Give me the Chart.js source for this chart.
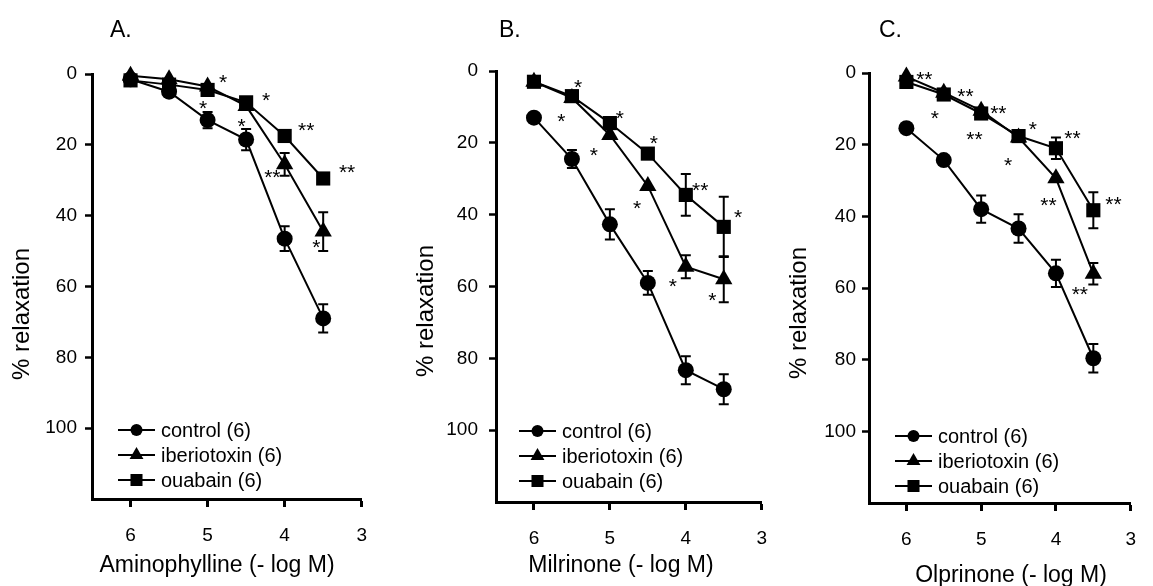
<!DOCTYPE html>
<html>
<head>
<meta charset="utf-8">
<script src="https://cdn.jsdelivr.net/npm/chart.js@4.4.1/dist/chart.umd.min.js"></script>
<style>
  body { margin: 0; background: #fff; width: 1153px; height: 586px; overflow: hidden; position: relative; }
  canvas { position: absolute; top: 0; }
</style>
</head>
<body>
<canvas id="chartA" width="384" height="586" style="left:0px"></canvas>
<canvas id="chartB" width="400" height="586" style="left:384px"></canvas>
<canvas id="chartC" width="385" height="586" style="left:768px"></canvas>
<script>
// doses (-log M) and axis ticks
const doses = [6, 5.5, 5, 4.5, 4, 3.5];
const xTicks = [6, 5, 4, 3];
const yTicks = [0, 20, 40, 60, 80, 100];
const seriesNames = ['control (6)', 'iberiotoxin (6)', 'ouabain (6)'];
const pointStyles = ['circle', 'triangle', 'rect'];

// A. Aminophylline
const aminoControl = [1.5, 5, 13, 18.5, 46.5, 69];
const aminoControlSem = [0, 0, 2.3, 3, 3.5, 4];
const aminoIbtx = [0.5, 1.5, 3.5, 9, 25.5, 44.5];
const aminoIbtxSem = [0, 0, 0, 0, 3.2, 5.5];
const aminoOuab = [1.8, 3, 4.5, 8, 17.5, 29.5];
const aminoOuabSem = [0, 0, 0, 0, 0, 0];
const aminoStars = [[4.80, 1.1, '*'], [5.06, 8.2, '*'], [4.24, 6.2, '*'], [4.56, 13.5, '*'],
  [3.72, 14.6, '**'], [4.16, 27.9, '**'], [3.19, 26.5, '**'], [3.59, 47.6, '*']];

// B. Milrinone
const milControl = [13, 24.5, 42.7, 59, 83.3, 88.6];
const milControlSem = [0, 2.5, 4.2, 3.3, 3.9, 4.2];
const milIbtx = [3, 7.5, 17.8, 32, 54.5, 58];
const milIbtxSem = [0, 0, 0, 0, 3.2, 6.4];
const milOuab = [3, 7, 14.5, 23, 34.5, 43.4];
const milOuabSem = [0, 0, 0, 0, 5.8, 8.4];
const milStars = [[5.42, 3.1, '*'], [5.64, 12.8, '*'], [4.87, 11.7, '*'], [5.21, 22, '*'],
  [4.42, 18.7, '*'], [4.64, 36.8, '*'], [3.81, 31.8, '**'], [4.17, 58.5, '*'],
  [3.31, 39.3, '*'], [3.65, 62.4, '*']];

// C. Olprinone
const olpControl = [15.4, 24.3, 38, 43.4, 55.9, 79.6];
const olpControlSem = [0, 0, 3.8, 4, 3.8, 4];
const olpIbtx = [1, 5.5, 10.5, 18, 29.4, 56];
const olpIbtxSem = [0, 0, 0, 0, 0, 3];
const olpOuab = [2.5, 6, 11.3, 17.6, 21, 38.3];
const olpOuabSem = [0, 0, 0, 0, 3, 5];
const olpStars = [[5.76, 0.3, '**'], [5.21, 5.3, '**'], [5.62, 11.2, '*'], [4.77, 9.8, '**'],
  [5.09, 17.3, '**'], [4.31, 14.5, '*'], [4.64, 24.3, '*'], [3.78, 17, '**'],
  [4.10, 35.5, '**'], [3.23, 35.2, '**'], [3.68, 60.3, '**']];

const FONT = '"Liberation Sans", Arial, sans-serif';

// error bars under the markers, texts and legend on top
const panelExtras = {
  id: 'panelExtras',
  beforeDatasetsDraw(chart) {
    const ctx = chart.ctx, xs = chart.scales.x, ys = chart.scales.y;
    ctx.save();
    ctx.strokeStyle = '#000';
    ctx.lineWidth = 2;
    chart.data.datasets.forEach(ds => {
      ds.data.forEach((p, i) => {
        const e = ds.sem[i];
        if (!e) return;
        const px = xs.getPixelForValue(p.x);
        const top = ys.getPixelForValue(p.y - e), bot = ys.getPixelForValue(p.y + e);
        ctx.beginPath();
        ctx.moveTo(px, top); ctx.lineTo(px, bot);
        ctx.moveTo(px - 5, top); ctx.lineTo(px + 5, top);
        ctx.moveTo(px - 5, bot); ctx.lineTo(px + 5, bot);
        ctx.stroke();
      });
    });
    ctx.restore();
  },
  afterDraw(chart, args, o) {
    const ctx = chart.ctx, xs = chart.scales.x, ys = chart.scales.y;
    const area = chart.chartArea;
    ctx.save();
    ctx.fillStyle = '#000';
    ctx.strokeStyle = '#000';

    // panel letter
    ctx.font = '23px ' + FONT;
    ctx.textAlign = 'left';
    ctx.textBaseline = 'alphabetic';
    ctx.fillText(o.letter, area.left + o.letterDx, 37);

    // x title
    ctx.font = '23px ' + FONT;
    ctx.textAlign = 'center';
    ctx.fillText(o.xTitle, area.left + o.xTitleDx, o.xTitleY);

    // y title
    ctx.save();
    ctx.font = '24px ' + FONT;
    ctx.translate(area.left - 70, area.top + 240);
    ctx.rotate(-Math.PI / 2);
    ctx.textBaseline = 'middle';
    ctx.fillText('% relaxation', 0, 0);
    ctx.restore();

    // significance marks
    ctx.font = '21px ' + FONT;
    ctx.textAlign = 'center';
    ctx.textBaseline = 'alphabetic';
    o.stars.forEach(s => {
      ctx.fillText(s[2], xs.getPixelForValue(s[0]), ys.getPixelForValue(s[1]) + 11.5);
    });

    // legend
    const lx = area.left + o.legendDx;
    const sizes = [6, 8, 8.5];
    ctx.lineWidth = 2;
    ctx.font = '20px ' + FONT;
    ctx.textAlign = 'left';
    ctx.textBaseline = 'middle';
    seriesNames.forEach((name, i) => {
      const ly = area.top + o.legendDy + i * 25;
      ctx.beginPath();
      ctx.moveTo(lx, ly); ctx.lineTo(lx + 37, ly);
      ctx.stroke();
      Chart.helpers.drawPoint(ctx, { pointStyle: pointStyles[i], radius: sizes[i], rotation: 0, borderWidth: 0 }, lx + 18.5, ly);
      ctx.fillText(name, lx + 43, ly + 1);
    });
    ctx.restore();
  }
};

function makeChart(id, p) {
  const series = [[p.control, p.controlSem, 8], [p.ibtx, p.ibtxSem, 10], [p.ouab, p.ouabSem, 10]];
  const datasets = series.map((s, i) => ({
    label: seriesNames[i],
    data: doses.map((d, j) => ({ x: d, y: s[0][j] })),
    sem: s[1],
    borderColor: '#000',
    backgroundColor: '#000',
    borderWidth: 2,
    pointStyle: pointStyles[i],
    pointRadius: s[2],
    pointBorderWidth: 0,
    pointBackgroundColor: '#000',
    clip: false
  }));

  return new Chart(document.getElementById(id), {
    type: 'line',
    data: { datasets: datasets },
    plugins: [panelExtras],
    options: {
      responsive: false,
      animation: false,
      devicePixelRatio: 1,
      layout: { padding: { top: p.top, right: p.right, bottom: 0, left: 0 } },
      plugins: {
        legend: { display: false },
        tooltip: { enabled: false },
        panelExtras: p.extras
      },
      scales: {
        x: {
          type: 'linear',
          reverse: true,
          min: 3,
          max: 6.5,
          afterBuildTicks: (scale) => { scale.ticks = xTicks.map(v => ({ value: v })); },
          afterFit: (scale) => { scale.height = p.xHeight; },
          grid: { drawOnChartArea: false, drawTicks: true, tickLength: 8, tickWidth: 3, tickColor: '#000' },
          border: { display: true, color: '#000', width: 3 },
          ticks: { color: '#000', padding: 17, font: { family: FONT, size: 19 } }
        },
        y: {
          type: 'linear',
          reverse: true,
          min: 0,
          max: 120,
          afterBuildTicks: (scale) => { scale.ticks = yTicks.map(v => ({ value: v })); },
          afterFit: (scale) => { scale.width = p.yWidth; },
          grid: { drawOnChartArea: false, drawTicks: true, tickLength: 7, tickWidth: 2.5, tickColor: '#000' },
          border: { display: true, color: '#000', width: 3 },
          ticks: { color: '#000', padding: p.yPad, font: { family: FONT, size: 19 } }
        }
      }
    }
  });
}

makeChart('chartA', {
  control: aminoControl, controlSem: aminoControlSem,
  ibtx: aminoIbtx, ibtxSem: aminoIbtxSem,
  ouab: aminoOuab, ouabSem: aminoOuabSem,
  top: 74, right: 13, xHeight: 87, yWidth: 92, yPad: 8,
  extras: { letter: 'A.', letterDx: 18, xTitle: 'Aminophylline (- log M)', xTitleDx: 125, xTitleY: 572,
    legendDx: 26, legendDy: 356, stars: aminoStars }
});

makeChart('chartB', {
  control: milControl, controlSem: milControlSem,
  ibtx: milIbtx, ibtxSem: milIbtxSem,
  ouab: milOuab, ouabSem: milOuabSem,
  top: 71, right: 18, xHeight: 84, yWidth: 112, yPad: 11,
  extras: { letter: 'B.', letterDx: 3, xTitle: 'Milrinone (- log M)', xTitleDx: 125, xTitleY: 572,
    legendDx: 23, legendDy: 360, stars: milStars }
});

makeChart('chartC', {
  control: olpControl, controlSem: olpControlSem,
  ibtx: olpIbtx, ibtxSem: olpIbtxSem,
  ouab: olpOuab, ouabSem: olpOuabSem,
  top: 73, right: 8, xHeight: 83, yWidth: 101, yPad: 6,
  extras: { letter: 'C.', letterDx: 10, xTitle: 'Olprinone (- log M)', xTitleDx: 142, xTitleY: 582,
    legendDx: 26, legendDy: 363, stars: olpStars }
});
</script>
</body>
</html>
